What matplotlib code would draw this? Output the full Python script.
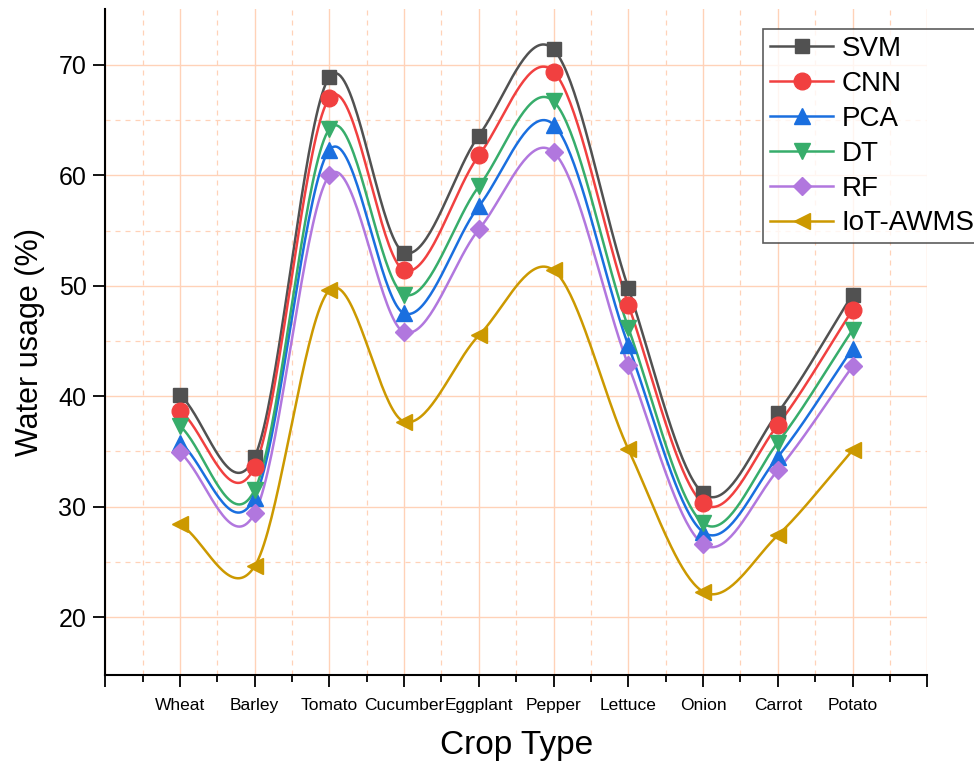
import numpy as np
import matplotlib.pyplot as plt
from matplotlib.ticker import MultipleLocator, FixedLocator

plt.rcParams['font.family'] = ['Liberation Sans', 'DejaVu Sans']

# data
crops = ['Wheat', 'Barley', 'Tomato', 'Cucumber', 'Eggplant',
         'Pepper', 'Lettuce', 'Onion', 'Carrot', 'Potato']
svm = [40.1, 34.5, 68.9, 53.0, 63.6, 71.4, 49.8, 31.2, 38.5, 49.2]
cnn = [38.7, 33.6, 67.0, 51.4, 61.8, 69.4, 48.3, 30.3, 37.4, 47.8]
pca = [35.8, 30.8, 62.3, 47.5, 57.2, 64.6, 44.6, 27.7, 34.5, 44.3]
dt = [37.3, 31.5, 64.2, 49.2, 59.0, 66.7, 46.2, 28.5, 35.8, 46.0]
rf = [34.9, 29.4, 60.0, 45.8, 55.1, 62.1, 42.8, 26.6, 33.3, 42.7]
iot = [28.4, 24.6, 49.6, 37.7, 45.5, 51.4, 35.2, 22.3, 27.4, 35.1]

series = [
    ('SVM', svm, '#515151', 's', 10),
    ('CNN', cnn, '#F14040', 'o', 12),
    ('PCA', pca, '#1A6FDF', '^', 12),
    ('DT', dt, '#37AD6B', 'v', 12),
    ('RF', rf, '#B177DE', 'D', 9.5),
    ('IoT-AWMS', iot, '#CC9900', '<', 12),
]


def smooth_line(x, y, n=40):
    # Catmull-Rom style cubic Hermite curve through the points (line style only)
    x = np.asarray(x, float)
    y = np.asarray(y, float)
    m = np.gradient(y, x)
    xs, ys = [], []
    for i in range(len(x) - 1):
        h = x[i + 1] - x[i]
        t = np.linspace(0, 1, n, endpoint=(i == len(x) - 2))
        h00 = 2 * t**3 - 3 * t**2 + 1
        h10 = t**3 - 2 * t**2 + t
        h01 = -2 * t**3 + 3 * t**2
        h11 = t**3 - t**2
        xs.append(x[i] + t * h)
        ys.append(h00 * y[i] + h10 * h * m[i] + h01 * y[i + 1] + h11 * h * m[i + 1])
    return np.concatenate(xs), np.concatenate(ys)


fig = plt.figure(figsize=(9.74, 7.64), dpi=100)
ax = fig.add_axes([0.108, 0.1165, 0.844, 0.8715])

x = np.arange(len(crops))
for name, vals, col, mk, ms in series:
    xs, ys = smooth_line(x, vals)
    ax.plot(xs, ys, color=col, lw=1.8, zorder=3)
    ax.plot(x, vals, linestyle='none', marker=mk, markersize=ms,
            color=col, zorder=4)
    ax.plot([], [], color=col, lw=1.8, marker=mk, markersize=ms, label=name)

ax.set_xlim(-1, 10)
ax.set_ylim(14.75, 75.05)

ax.xaxis.set_major_locator(FixedLocator(range(-1, 11)))
ax.set_xticklabels([''] + crops + [''], fontsize=12.5)
ax.xaxis.set_minor_locator(MultipleLocator(0.5))
ax.yaxis.set_major_locator(FixedLocator([20, 30, 40, 50, 60, 70]))
ax.yaxis.set_minor_locator(FixedLocator([25, 35, 45, 55, 65]))
ax.tick_params(axis='y', which='major', labelsize=18, length=8.5, width=1.3,
               direction='out', pad=5)
ax.tick_params(axis='y', which='minor', length=0)
ax.tick_params(axis='x', which='major', length=8.5, width=1.3, direction='out',
               pad=8)
ax.tick_params(axis='x', which='minor', length=5, width=1.3, direction='out')

ax.grid(True, which='major', color='#FFD2B8', lw=1.0, zorder=0)
ax.grid(True, which='minor', color='#FFD2B8', lw=0.9, ls=(0, (4, 4)), zorder=0)

for s in ['top', 'right']:
    ax.spines[s].set_visible(False)
for s in ['left', 'bottom']:
    ax.spines[s].set_linewidth(1.5)

ax.set_xlabel('Crop Type', fontsize=24, labelpad=12)
ax.set_ylabel('Water usage (%)', fontsize=22, labelpad=10)

leg = ax.legend(loc='upper left', bbox_to_anchor=(0.783, 0.962),
                bbox_transform=fig.transFigure, fontsize=20, frameon=True,
                fancybox=False, edgecolor='#333333', handlelength=2.3,
                handletextpad=0.3, labelspacing=0.32, borderpad=0.25,
                borderaxespad=0)
leg.get_frame().set_linewidth(1.2)

fig.savefig('out.png', dpi=100)
